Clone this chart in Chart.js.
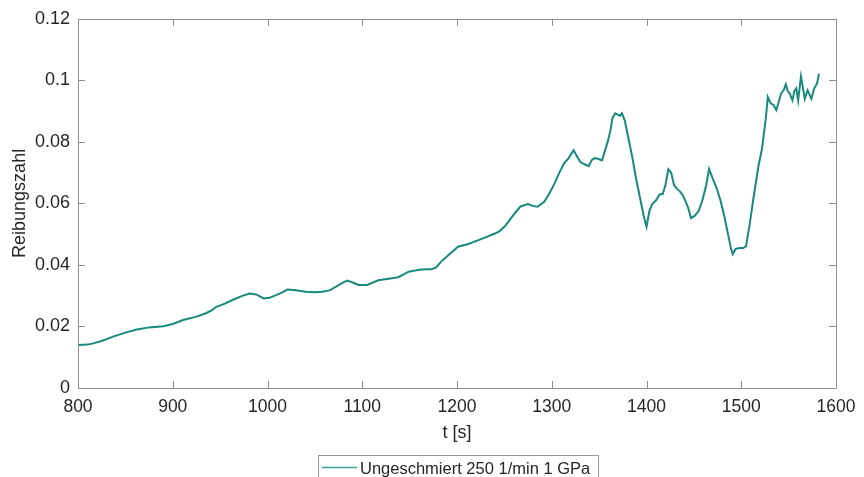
<!DOCTYPE html>
<html><head><meta charset="utf-8">
<script src="https://cdn.jsdelivr.net/npm/chart.js@4"></script>
<style>html,body{margin:0;padding:0;background:#fff;}#wrap{width:864px;height:477px;position:relative;}</style>
</head><body><div id="wrap"><canvas id="c" width="864" height="477"></canvas></div>
<script>
const timeValues = [800,810,816,825,837,850,862,875,890,900,911,925,935,941,946,955,963,972,981,988,996,1002,1009,1015,1021,1030,1040,1050,1058,1066,1072,1078,1084,1090,1096,1105,1117,1128,1138,1149,1160,1168,1173,1178,1183,1192,1201,1212,1222,1232,1240,1245,1250,1256,1261,1267,1275,1280,1285,1292,1297,1303,1308,1313,1318,1323,1327,1330,1334,1339,1342,1345,1349,1353,1356,1359,1362,1364,1367,1370,1372,1374,1377,1381,1385,1389,1393,1397,1400,1403,1406,1410,1414,1417,1420,1423,1426,1429,1432,1435,1438,1441,1444,1447,1451,1455,1459,1463,1466,1470,1474,1478,1482,1486,1489,1491,1494,1498,1502,1505,1509,1513,1518,1522,1526,1528,1531,1534,1537,1540,1542,1545,1547,1549,1551,1554,1556,1558,1560,1563,1567,1570,1574,1577,1580,1582];
const frictionValues = [0.0140,0.0141,0.0145,0.0153,0.0167,0.0180,0.0190,0.0197,0.0201,0.0208,0.0221,0.0232,0.0243,0.0252,0.0264,0.0274,0.0286,0.0298,0.0307,0.0304,0.0291,0.0293,0.0302,0.0310,0.0320,0.0318,0.0313,0.0311,0.0313,0.0318,0.0329,0.0340,0.0349,0.0343,0.0335,0.0335,0.0350,0.0355,0.0360,0.0378,0.0384,0.0386,0.0386,0.0392,0.0410,0.0435,0.0459,0.0468,0.0480,0.0492,0.0502,0.0510,0.0524,0.0548,0.0568,0.0590,0.0598,0.0592,0.0589,0.0605,0.0630,0.0665,0.0700,0.0730,0.0748,0.0773,0.0751,0.0735,0.0728,0.0721,0.0740,0.0747,0.0745,0.0740,0.0770,0.0800,0.0838,0.0877,0.0893,0.0888,0.0885,0.0893,0.0870,0.0810,0.0750,0.0680,0.0620,0.0560,0.0524,0.0575,0.0598,0.0610,0.0630,0.0630,0.0660,0.0711,0.0700,0.0660,0.0648,0.0640,0.0628,0.0608,0.0585,0.0552,0.0560,0.0575,0.0610,0.0660,0.0712,0.0680,0.0650,0.0610,0.0560,0.0500,0.0455,0.0435,0.0452,0.0455,0.0455,0.0460,0.0535,0.0620,0.0719,0.0780,0.0880,0.0946,0.0925,0.0920,0.0903,0.0935,0.0957,0.0970,0.0987,0.0965,0.0958,0.0935,0.0965,0.0974,0.0935,0.1013,0.0940,0.0968,0.0940,0.0974,0.0990,0.1022];
const xTickLabels = ['800','900','1000','1100','1200','1300','1400','1500','1600'];
const yTickLabels = ['0','0.02','0.04','0.06','0.08','0.1','0.12'];
const seriesLabel = 'Ungeschmiert 250 1/min 1 GPa';
const xTitle = 't [s]';
const yTitle = 'Reibungszahl';

const FONT = 'Liberation Sans, Arial, Helvetica, sans-serif';
const TEXT = '#262626';
const AXIS = '#8f8f8f';
const LINE = '#178a7b';

const points = timeValues.map((t,i)=>({x:t,y:frictionValues[i]}));

const framePlugin = {
  id:'frame',
  afterDraw(chart){
    const {ctx, chartArea:a, scales:{x,y}} = chart;
    ctx.save();
    ctx.strokeStyle = AXIS; ctx.lineWidth = 1;
    ctx.strokeRect(Math.round(a.left)+0.5, Math.round(a.top)+0.5, Math.round(a.right-a.left), Math.round(a.bottom-a.top));
    const L = 7;
    ctx.beginPath();
    x.ticks.forEach(t=>{
      const px = Math.round(x.getPixelForValue(t.value))+0.5;
      ctx.moveTo(px,a.bottom); ctx.lineTo(px,a.bottom-L);
      ctx.moveTo(px,a.top); ctx.lineTo(px,a.top+L);
    });
    y.ticks.forEach(t=>{
      const py = Math.round(y.getPixelForValue(t.value))+0.5;
      ctx.moveTo(a.left,py); ctx.lineTo(a.left+L,py);
      ctx.moveTo(a.right,py); ctx.lineTo(a.right-L,py);
    });
    ctx.stroke();
    // legend box
    const bx=318.5, by=455.5, bw=280, bh=30;
    ctx.fillStyle='#fff'; ctx.fillRect(bx,by,bw,bh);
    ctx.strokeStyle='#9a9a9a'; ctx.lineWidth = 1; ctx.strokeRect(bx,by,bw,bh);
    ctx.strokeStyle = '#3aa595'; ctx.lineWidth = 1.5;
    ctx.beginPath(); ctx.moveTo(322,467.5); ctx.lineTo(357,467.5); ctx.stroke();
    ctx.fillStyle = TEXT; ctx.font = '16.5px '+FONT; ctx.textBaseline='alphabetic'; ctx.textAlign='left';
    ctx.fillText(chart.data.datasets[0].label, 360, 473.5);
    ctx.restore();
  }
};

new Chart(document.getElementById('c'), {
  type:'line',
  data:{datasets:[{label:seriesLabel,data:points,borderColor:LINE,borderWidth:2,pointRadius:0,tension:0,fill:false}]},
  options:{
    responsive:false, animation:false, devicePixelRatio:1,
    layout:{padding:{left:0,top:18,right:24,bottom:0}},
    plugins:{legend:{display:false},tooltip:{enabled:false}},
    scales:{
      x:{type:'linear',min:800,max:1600,
        afterFit(s){s.height=89;},
        grid:{display:false,drawTicks:false},border:{display:false},
        ticks:{stepSize:100,padding:8.5,color:TEXT,font:{family:FONT,size:17.5},maxRotation:0,autoSkip:false,
          callback:(v)=>{const i=xTickLabels.indexOf(String(v));return i>=0?xTickLabels[i]:'';}},
        title:{display:true,text:xTitle,color:TEXT,font:{family:FONT,size:18},padding:{top:0,bottom:33}}
      },
      y:{type:'linear',min:0,max:0.12,
        afterFit(s){s.width=78;},
        grid:{display:false,drawTicks:false},border:{display:false},
        ticks:{stepSize:0.02,padding:8,color:TEXT,font:{family:FONT,size:18},autoSkip:false,
          callback:(v)=>{const i=Math.round(v/0.02);return yTickLabels[i]!==undefined?yTickLabels[i]:'';}},
        title:{display:true,text:yTitle,color:TEXT,font:{family:FONT,size:18},padding:{top:9,bottom:0}}
      }
    }
  },
  plugins:[framePlugin]
});
</script></body></html>
